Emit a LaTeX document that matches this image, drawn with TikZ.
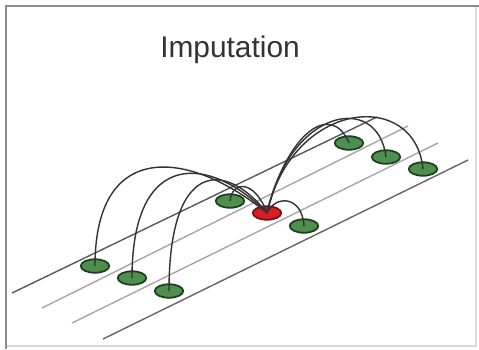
\documentclass[tikz,border=0pt]{standalone}
\usepackage{fontspec}
\setmainfont{Liberation Sans}
\usetikzlibrary{shapes.geometric}
\definecolor{sitefill}{HTML}{4E8E4E}
\definecolor{siteedge}{HTML}{1E3E1E}
\definecolor{missfill}{HTML}{D81E24}
\definecolor{missedge}{HTML}{7A1014}
\tikzset{
  site/.style={draw=siteedge, fill=sitefill, ellipse, line width=1pt, minimum width=0.57cm, minimum height=0.27cm, inner sep=0pt},
  miss/.style={site, draw=missedge, fill=missfill},
  track/.style={line width=0.8pt},
  link/.style={draw=black!80, line width=0.8pt}
}
\begin{document}
\begin{tikzpicture}[x=0.02cm, y=-0.02cm]
\useasboundingbox (0,0) rectangle (479,349);
% frame
\draw[black!15, line width=1pt] (476,6) -- (476,346) -- (6,346);
\draw[black!45, line width=1.5pt] (479,6) -- (6,6) -- (6,349);
% title
\node[anchor=base, font=\fontsize{17}{20}\selectfont, text=black!80] (title) at (230,57) {Imputation};
% tracks
\draw[track, black!65] (12,293) -- (377,117);
\draw[track, black!35] (42,308) -- (408,126);
\draw[track, black!35] (72,323) -- (438,143);
\draw[track, black!60] (103,339) -- (468,160);
% sites
\node[site] (a1) at (95,266) {};
\node[site] (a2) at (230,201) {};
\node[site] (a3) at (349,143) {};
\node[site] (b1) at (132,278) {};
\node[miss] (m) at (267,213) {};
\node[site] (b3) at (386,157) {};
\node[site] (c1) at (169,291) {};
\node[site] (c2) at (304,226) {};
\node[site] (c3) at (423,169) {};
% links
\draw[link] (a1.center) .. controls (95,138) and (190,150) .. (m.center);
\draw[link] (b1.center) .. controls (132,148) and (210,155) .. (m.center);
\draw[link] (c1.center) .. controls (169,160) and (225,160) .. (m.center);
\draw[link] (a2.center) .. controls (232,180) and (255,180) .. (m.center);
\draw[link] (m.center) .. controls (275,195) and (302,195) .. (c2.center);
\draw[link] (m.center) .. controls (288,130) and (332,102) .. (a3.center);
\draw[link] (m.center) .. controls (290,108) and (378,92) .. (b3.center);
\draw[link] (m.center) .. controls (292,100) and (415,88) .. (c3.center);
\end{tikzpicture}
\end{document}
